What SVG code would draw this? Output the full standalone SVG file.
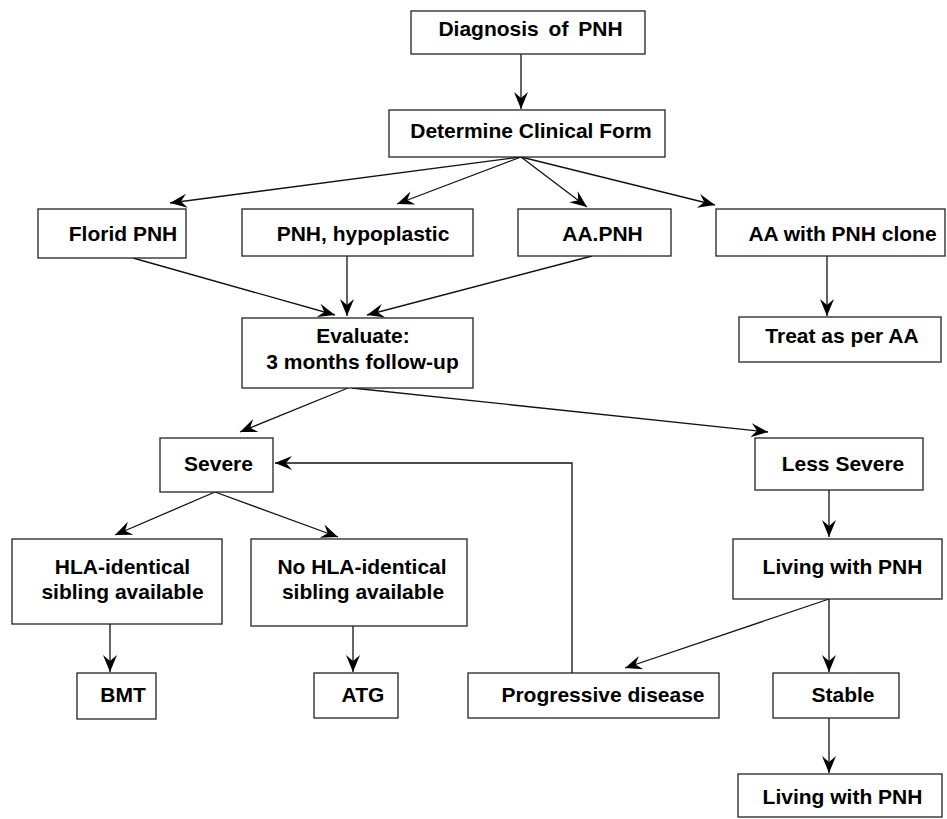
<svg xmlns="http://www.w3.org/2000/svg" width="947" height="819" viewBox="0 0 947 819">
<style>
.box{fill:#fff;stroke:#222;stroke-width:1.3}
.t{font-family:"Liberation Sans",Arial,sans-serif;font-weight:bold;font-size:21px;fill:#000;text-anchor:middle}
.c{fill:none;stroke:#111;stroke-width:1.3}
</style>
<defs>
<marker id="ah" markerWidth="20" markerHeight="16" viewBox="-18 -8 20 16" refX="0" refY="0" orient="auto" markerUnits="userSpaceOnUse">
<path d="M0,0 L-17,-7 L-11,0 L-17,7 Z" fill="#000"/>
</marker>
</defs>
<rect width="947" height="819" fill="#fff"/>
<g id="connectors">
<line class="c" x1="521" y1="54" x2="521" y2="109" marker-end="url(#ah)"/>
<line class="c" x1="521" y1="157" x2="170" y2="203" marker-end="url(#ah)"/>
<line class="c" x1="521" y1="157" x2="397" y2="204" marker-end="url(#ah)"/>
<line class="c" x1="521" y1="157" x2="587" y2="207" marker-end="url(#ah)"/>
<line class="c" x1="521" y1="157" x2="715" y2="205" marker-end="url(#ah)"/>
<line class="c" x1="133" y1="258" x2="335" y2="315" marker-end="url(#ah)"/>
<line class="c" x1="347" y1="256" x2="347" y2="316" marker-end="url(#ah)"/>
<line class="c" x1="592" y1="256" x2="367" y2="315" marker-end="url(#ah)"/>
<line class="c" x1="827" y1="256" x2="827" y2="316" marker-end="url(#ah)"/>
<line class="c" x1="348" y1="388" x2="240" y2="432" marker-end="url(#ah)"/>
<line class="c" x1="352" y1="388" x2="768" y2="432" marker-end="url(#ah)"/>
<polyline class="c" points="572,673 572,463 275,463" marker-end="url(#ah)"/>
<line class="c" x1="215" y1="492" x2="115" y2="535" marker-end="url(#ah)"/>
<line class="c" x1="215" y1="492" x2="338" y2="537" marker-end="url(#ah)"/>
<line class="c" x1="110" y1="624" x2="110" y2="672" marker-end="url(#ah)"/>
<line class="c" x1="353" y1="626" x2="353" y2="672" marker-end="url(#ah)"/>
<line class="c" x1="829" y1="490" x2="829" y2="537" marker-end="url(#ah)"/>
<line class="c" x1="829" y1="599" x2="625" y2="668" marker-end="url(#ah)"/>
<line class="c" x1="829" y1="599" x2="829" y2="672" marker-end="url(#ah)"/>
<line class="c" x1="829" y1="718" x2="829" y2="773" marker-end="url(#ah)"/>
</g>
<g id="n-diagnosis"><rect class="box" x="411" y="11" width="234" height="43"/><text class="t" x="530.5" y="36" word-spacing="4">Diagnosis of PNH</text></g>
<g id="n-determine"><rect class="box" x="389" y="110" width="276" height="47"/><text class="t" x="531" y="138">Determine Clinical Form</text></g>
<g id="n-florid"><rect class="box" x="38" y="209" width="148" height="49"/><text class="t" x="123" y="241">Florid PNH</text></g>
<g id="n-hypoplastic"><rect class="box" x="242" y="209" width="231" height="47"/><text class="t" x="363" y="241">PNH, hypoplastic</text></g>
<g id="n-aapnh"><rect class="box" x="518" y="209" width="153" height="47"/><text class="t" x="602.5" y="241">AA.PNH</text></g>
<g id="n-aaclone"><rect class="box" x="716" y="209" width="229" height="47"/><text class="t" x="842.5" y="241">AA with PNH clone</text></g>
<g id="n-evaluate"><rect class="box" x="242" y="318" width="231" height="70"/><text class="t" x="363" y="343">Evaluate:</text><text class="t" x="362.5" y="369">3 months follow-up</text></g>
<g id="n-treat"><rect class="box" x="739" y="317" width="202" height="45"/><text class="t" x="842" y="343">Treat as per AA</text></g>
<g id="n-severe"><rect class="box" x="160" y="438" width="113" height="54"/><text class="t" x="218.5" y="471">Severe</text></g>
<g id="n-lesssevere"><rect class="box" x="755" y="438" width="168" height="52"/><text class="t" x="843" y="471">Less Severe</text></g>
<g id="n-hla"><rect class="box" x="12" y="539" width="210" height="85"/><text class="t" x="122.5" y="574">HLA-identical</text><text class="t" x="122.5" y="599">sibling available</text></g>
<g id="n-nohla"><rect class="box" x="251" y="539" width="216" height="87"/><text class="t" x="362" y="574">No HLA-identical</text><text class="t" x="363" y="599">sibling available</text></g>
<g id="n-living1"><rect class="box" x="733" y="539" width="209" height="60"/><text class="t" x="842.5" y="574">Living with PNH</text></g>
<g id="n-bmt"><rect class="box" x="77" y="673" width="79" height="46"/><text class="t" x="123" y="702">BMT</text></g>
<g id="n-atg"><rect class="box" x="314" y="673" width="84" height="45"/><text class="t" x="363" y="702">ATG</text></g>
<g id="n-progressive"><rect class="box" x="468" y="673" width="251" height="45"/><text class="t" x="603" y="702">Progressive disease</text></g>
<g id="n-stable"><rect class="box" x="773" y="673" width="126" height="45"/><text class="t" x="843" y="702">Stable</text></g>
<g id="n-living2"><rect class="box" x="738" y="774" width="204" height="43"/><text class="t" x="842.5" y="804">Living with PNH</text></g>
</svg>
